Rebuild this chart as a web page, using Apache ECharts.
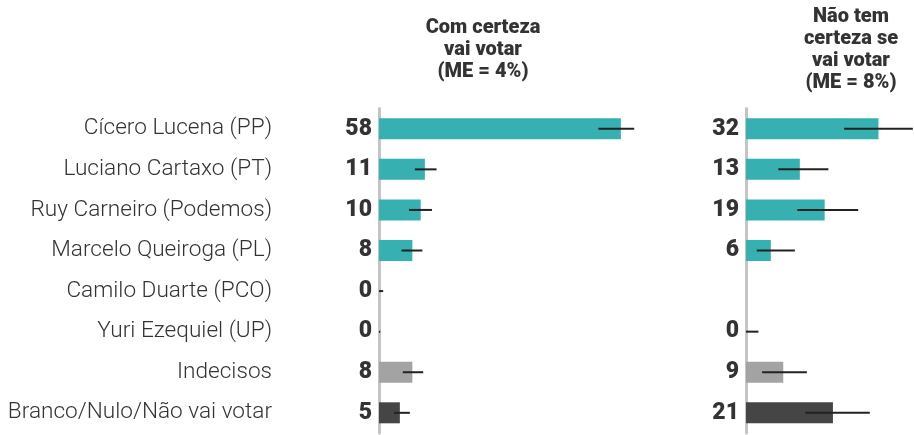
<!DOCTYPE html>
<html>
<head>
<meta charset="utf-8">
<script src="https://cdn.jsdelivr.net/npm/echarts@6/dist/echarts.min.js"></script>
<style>html,body{margin:0;padding:0;background:#fff}#c{width:914px;height:435px}</style>
</head>
<body>
<div id="c"></div>
<script>
const categories = ['Cícero Lucena (PP)', 'Luciano Cartaxo (PT)', 'Ruy Carneiro (Podemos)', 'Marcelo Queiroga (PL)', 'Camilo Duarte (PCO)', 'Yuri Ezequiel (UP)', 'Indecisos', 'Branco/Nulo/Não vai votar'];
const certoValues = [58, 11, 10, 8, 0, 0, 8, 5];
const certoLow = [52.6, 8.6, 7.2, 5.4, 0, 0, 5.7, 3.6];
const certoHigh = [61.2, 13.8, 12.7, 10.4, 1.0, 0.3, 10.6, 7.4];
const incertoValues = [32, 13, 19, 6, null, 0, 9, 21];
const incertoLow = [23.7, 7.8, 12.4, 2.6, null, 0, 3.9, 14.3];
const incertoHigh = [40.3, 19.9, 27.1, 11.8, null, 3.0, 14.7, 29.9];
const titleCerto = 'Com certeza\nvai votar\n(ME = 4%)';
const titleIncerto = 'Não tem\ncerteza se\nvai votar\n(ME = 8%)';

const barColors = ['#36b0b0', '#36b0b0', '#36b0b0', '#36b0b0', '#36b0b0', '#36b0b0', '#a3a3a3', '#454545'];
const FONT = 'Roboto';

function barData(vals) {
  return vals.map((v, i) => v === null ? null : { value: v, itemStyle: { color: barColors[i] } });
}
function errData(lo, hi) {
  return lo.map((l, i) => l === null ? null : [l, hi[i], i]).filter(d => d !== null);
}
function errRender(params, api) {
  const p1 = api.coord([api.value(0), api.value(2)]);
  const p2 = api.coord([api.value(1), api.value(2)]);
  return {
    type: 'line',
    shape: { x1: p1[0], y1: p1[1], x2: p2[0], y2: p2[1] },
    style: { stroke: '#222', lineWidth: 2 }
  };
}

const chart = echarts.init(document.getElementById('c'), null, { renderer: 'canvas' });
const gridTop = 108.5, gridH = 324.6;
chart.setOption({
  animation: false,
  textStyle: { fontFamily: FONT },
  title: [
    { text: titleCerto, left: 478, top: 12, textAlign: 'center',
      textStyle: { fontFamily: FONT, fontSize: 20, fontWeight: 900, color: '#333', lineHeight: 22, align: 'center' } },
    { text: titleIncerto, left: 846, top: 1, textAlign: 'center',
      textStyle: { fontFamily: FONT, fontSize: 20, fontWeight: 900, color: '#333', lineHeight: 22, align: 'center' } }
  ],
  grid: [
    { left: 379, top: gridTop, width: 250.2, height: gridH },
    { left: 746, top: gridTop, width: 165.6, height: gridH }
  ],
  xAxis: [
    { gridIndex: 0, type: 'value', min: 0, max: 60, show: false },
    { gridIndex: 1, type: 'value', min: 0, max: 40, show: false }
  ],
  yAxis: [
    { gridIndex: 0, type: 'category', data: categories, inverse: true,
      axisLine: { show: true, lineStyle: { color: '#c4c4c4', width: 3 } },
      axisTick: { show: false }, splitLine: { show: false },
      axisLabel: { margin: 107, fontFamily: FONT, fontSize: 22.6, fontWeight: 300, color: '#333', padding: [3, 0, 0, 0] } },
    { gridIndex: 1, type: 'category', data: categories, inverse: true,
      axisLine: { show: true, lineStyle: { color: '#c4c4c4', width: 3 } },
      axisTick: { show: false }, splitLine: { show: false },
      axisLabel: { show: false } }
  ],
  series: [
    { type: 'bar', xAxisIndex: 0, yAxisIndex: 0, data: barData(certoValues), barWidth: 21,
      label: { show: true, position: 'left', distance: 7, fontFamily: FONT, fontSize: 23, fontWeight: 900, color: '#333' } },
    { type: 'bar', xAxisIndex: 1, yAxisIndex: 1, data: barData(incertoValues), barWidth: 21,
      label: { show: true, position: 'left', distance: 7, fontFamily: FONT, fontSize: 23, fontWeight: 900, color: '#333' } },
    { type: 'custom', xAxisIndex: 0, yAxisIndex: 0, data: errData(certoLow, certoHigh), renderItem: errRender, clip: false, z: 5 },
    { type: 'custom', xAxisIndex: 1, yAxisIndex: 1, data: errData(incertoLow, incertoHigh), renderItem: errRender, clip: false, z: 5 }
  ]
});
</script>
</body>
</html>
